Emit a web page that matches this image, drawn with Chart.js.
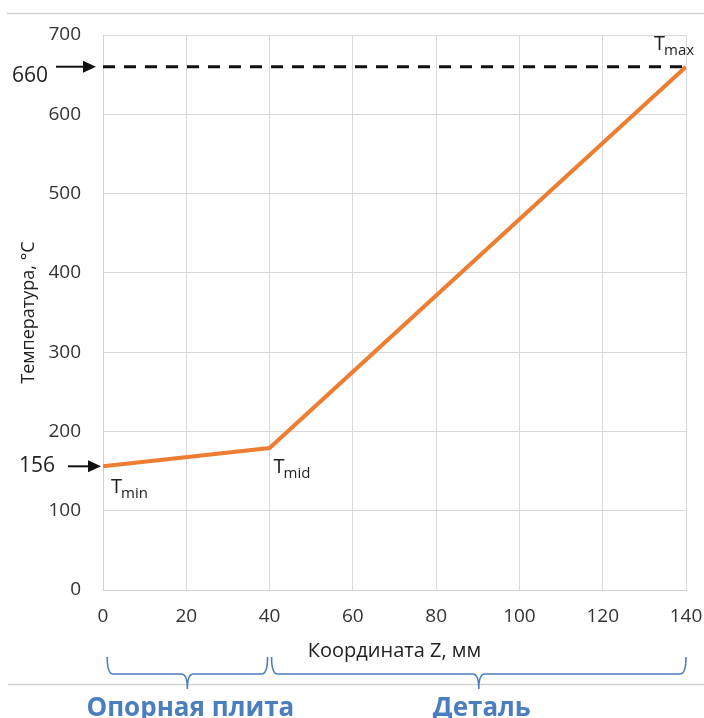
<!DOCTYPE html>
<html>
<head>
<meta charset="utf-8">
<script src="https://cdn.jsdelivr.net/npm/chart.js@4"></script>
<style>
  html, body { margin: 0; padding: 0; background: #fff; }
  #wrap { width: 704px; height: 718px; }
</style>
</head>
<body>
<div id="wrap"><canvas id="chart" width="704" height="718"></canvas></div>
<script>
// Z coordinate (mm) and temperature (°C)
const zValues = [0, 40, 140];
const tempValues = [156, 179, 660];
const tMax = 660;
const tMin = 156;
const xTicks = [0, 20, 40, 60, 80, 100, 120, 140];
const yTicks = [0, 100, 200, 300, 400, 500, 600, 700];
const zones = [
  { from: 1, to: 40, label: "Опорная плита" },
  { from: 40, to: 140, label: "Деталь" }
];

const FONT = "'Open Sans', 'Noto Sans', sans-serif";
const BLUE = "#4a7ebf";

function arrow(ctx, x1, x2, y) {
  ctx.strokeStyle = "#111";
  ctx.fillStyle = "#111";
  ctx.lineWidth = 2;
  ctx.beginPath();
  ctx.moveTo(x1, y);
  ctx.lineTo(x2 - 10, y);
  ctx.stroke();
  ctx.beginPath();
  ctx.moveTo(x2, y);
  ctx.lineTo(x2 - 13, y - 6);
  ctx.lineTo(x2 - 13, y + 6);
  ctx.closePath();
  ctx.fill();
}

function subLabel(ctx, x, y, main, sub) {
  ctx.fillStyle = "#222";
  ctx.textAlign = "left";
  ctx.textBaseline = "alphabetic";
  ctx.font = "20px " + FONT;
  ctx.fillText(main, x, y);
  let w = ctx.measureText(main).width;
  ctx.font = "15px " + FONT;
  ctx.fillText(sub, x + w - 1, y + 5);
}

function brace(ctx, x1, x2, yTop, yMid, yTip) {
  let xm = (x1 + x2) / 2;
  let r = 6;
  ctx.beginPath();
  ctx.moveTo(x1, yTop);
  ctx.quadraticCurveTo(x1, yMid, x1 + r, yMid);
  ctx.lineTo(xm - r, yMid);
  ctx.quadraticCurveTo(xm, yMid, xm, yTip);
  ctx.quadraticCurveTo(xm, yMid, xm + r, yMid);
  ctx.lineTo(x2 - r, yMid);
  ctx.quadraticCurveTo(x2, yMid, x2, yTop);
  ctx.stroke();
}

const extras = {
  id: "extras",
  afterDraw(chart) {
    const ctx = chart.ctx;
    const xs = chart.scales.x;
    const ys = chart.scales.y;
    ctx.save();

    // thin frame lines
    ctx.strokeStyle = "#d4d4d4";
    ctx.lineWidth = 1.5;
    ctx.beginPath();
    ctx.moveTo(7, 13.5); ctx.lineTo(704, 13.5);
    ctx.moveTo(8, 684.5); ctx.lineTo(704, 684.5);
    ctx.stroke();

    // arrows with values
    ctx.fillStyle = "#222";
    ctx.font = "21px " + FONT;
    ctx.textAlign = "left";
    ctx.textBaseline = "middle";
    let y660 = ys.getPixelForValue(tMax);
    ctx.fillText(String(tMax), 12, y660 + 9);
    arrow(ctx, 56, 96, y660);
    let y156 = ys.getPixelForValue(tMin);
    ctx.fillStyle = "#222";
    ctx.fillText(String(tMin), 19, y156);
    arrow(ctx, 68, 101, y156);

    // point labels
    subLabel(ctx, xs.getPixelForValue(140) - 32, ys.getPixelForValue(tMax) - 17, "T", "max");
    subLabel(ctx, xs.getPixelForValue(0) + 8, ys.getPixelForValue(tMin) + 27, "T", "min");
    subLabel(ctx, xs.getPixelForValue(40) + 4, ys.getPixelForValue(tempValues[1]) + 25, "T", "mid");

    // braces and zone labels
    ctx.strokeStyle = BLUE;
    ctx.lineWidth = 1.6;
    zones.forEach(z => {
      let a = xs.getPixelForValue(z.from) + (z.from === 40 ? 2 : 0);
      let b = xs.getPixelForValue(z.to) - (z.to === 40 ? 2 : 0);
      brace(ctx, a, b, 657, 674, 689);
      ctx.fillStyle = BLUE;
      ctx.font = "bold 26px " + FONT;
      ctx.textAlign = "center";
      ctx.textBaseline = "alphabetic";
      ctx.fillText(z.label, (a + b) / 2 + 3, 716);
    });
    ctx.restore();
  }
};

new Chart(document.getElementById("chart"), {
  type: "scatter",
  data: {
    datasets: [
      {
        label: "T",
        data: zValues.map((z, i) => ({ x: z, y: tempValues[i] })),
        showLine: true,
        borderColor: "#ed7d31",
        borderWidth: 4,
        pointRadius: 0,
        tension: 0
      },
      {
        label: "Tmax",
        data: [{ x: xTicks[0], y: tMax }, { x: xTicks[xTicks.length - 1], y: tMax }],
        showLine: true,
        borderColor: "#111",
        borderWidth: 3,
        borderDash: [12, 9],
        pointRadius: 0
      }
    ]
  },
  options: {
    responsive: false,
    animation: false,
    layout: { padding: { left: 0, right: 0, top: 35, bottom: 0 } },
    plugins: { legend: { display: false }, tooltip: { enabled: false } },
    scales: {
      x: {
        type: "linear",
        min: xTicks[0],
        max: xTicks[xTicks.length - 1],
        afterBuildTicks: s => { s.ticks = xTicks.map(v => ({ value: v })); },
        afterFit: s => { s.height = 128; s.paddingRight = 18; },
        grid: { color: "#d9d9d9", lineWidth: 1, drawTicks: false },
        border: { color: "#d0d0d0" },
        ticks: { color: "#333", font: { family: FONT, size: 19 }, padding: 15, maxRotation: 0 },
        title: {
          display: true,
          text: "Координата Z, мм",
          color: "#222",
          font: { family: FONT, size: 20 },
          padding: { top: 0, bottom: 55 }
        }
      },
      y: {
        min: yTicks[0],
        max: yTicks[yTicks.length - 1],
        afterBuildTicks: s => { s.ticks = yTicks.map(v => ({ value: v })); },
        afterFit: s => { s.width = 103; },
        grid: { color: "#d9d9d9", lineWidth: 1, drawTicks: false },
        border: { color: "#d0d0d0" },
        ticks: { color: "#333", font: { family: FONT, size: 19 }, padding: 22 },
        title: {
          display: true,
          text: "Температура, °C",
          color: "#222",
          font: { family: FONT, size: 18 },
          padding: { top: 18, bottom: 0 }
        }
      }
    }
  },
  plugins: [extras]
});
</script>
</body>
</html>
